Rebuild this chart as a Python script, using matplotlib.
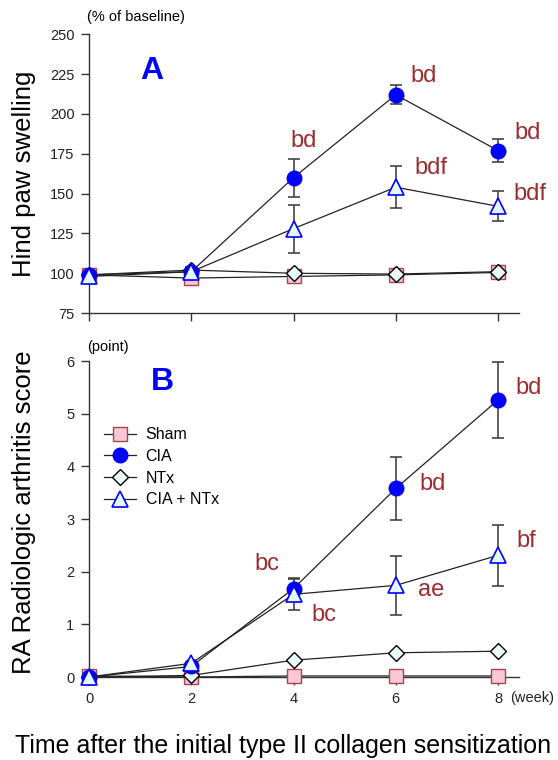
import numpy as np
import matplotlib
matplotlib.use("Agg")
from matplotlib import pyplot as plt

plt.rcParams['font.family'] = ['Liberation Sans', 'DejaVu Sans']

weeks = [0, 2, 4, 6, 8]
groups = ["Sham", "CIA", "NTx", "CIA + NTx"]

# panel A: hind paw swelling (% of baseline)
swell_sham = [99, 97, 98, 99, 100.5]
swell_cia = [99, 101, 160, 212, 177]
swell_ntx = [99, 102, 100, 99.5, 101]
swell_cia_ntx = [98, 101, 128, 154, 142]
swell_cia_err = [0, 3, 12, 6, 7]
swell_cia_ntx_err = [0, 3, 15, 13, 9.5]

# panel B: radiologic arthritis score (point)
score_sham = [0.02, 0.0, 0.02, 0.02, 0.02]
score_cia = [0.0, 0.2, 1.68, 3.58, 5.26]
score_ntx = [0.0, 0.03, 0.32, 0.46, 0.49]
score_cia_ntx = [0.0, 0.26, 1.57, 1.74, 2.31]
score_cia_err = [0, 0, 0.2, 0.6, 0.72]
score_cia_ntx_err = [0, 0, 0.3, 0.56, 0.58]

# significance letters: (x, y, text)
notes_a = [(4.2, 183, "bd"), (6.55, 224, "bd"), (8.57, 188, "bd"),
           (6.68, 166, "bdf"), (8.62, 150, "bdf")]
notes_b = [(3.48, 2.14, "bc"), (4.6, 1.17, "bc"), (6.72, 3.66, "bd"),
           (8.6, 5.49, "bd"), (6.7, 1.65, "ae"), (8.55, 2.58, "bf")]

red = "#9b2b2e"
styles = {
    "Sham": dict(marker="s", ms=9.5, mfc="#f8c8d6", mec="#a8444a", mew=1.0),
    "CIA": dict(marker="o", ms=10.5, mfc="#0000ff", mec="#0000ff", mew=1.0),
    "NTx": dict(marker="D", ms=8.5, mfc="#eafbfb", mec="black", mew=1.0),
    "CIA + NTx": dict(marker="^", ms=11, mfc="#e6f6ff", mec="#0000ff", mew=1.2),
}


def draw(ax, series, errs):
    for name in ["Sham", "NTx", "CIA", "CIA + NTx"]:
        y = series[name]
        if name in errs:
            ax.errorbar(weeks, y, yerr=errs[name], fmt="none", ecolor="#444444",
                        elinewidth=1.2, capsize=4.5, capthick=1.2, clip_on=False, zorder=2)
        ax.plot(weeks, y, color="#222222", lw=0.9, label=name, clip_on=False,
                zorder=3, **styles[name])
    ax.spines["top"].set_visible(False)
    ax.spines["right"].set_visible(False)
    for s in ["left", "bottom"]:
        ax.spines[s].set_color("#333333")
        ax.spines[s].set_linewidth(1.0)
    ax.set_xlim(0, 8.41)
    ax.set_xticks(weeks)
    ax.tick_params(direction="out", length=6, width=1, colors="#333333",
                   labelsize=10.5, labelcolor="#222222", pad=4.5)


fig = plt.figure(figsize=(5.58, 7.60), dpi=100)

axA = fig.add_axes([0.1595, 0.588, 0.7706, 0.367])
draw(axA, {"Sham": swell_sham, "CIA": swell_cia, "NTx": swell_ntx, "CIA + NTx": swell_cia_ntx},
     {"CIA": swell_cia_err, "CIA + NTx": swell_cia_ntx_err})
axA.set_ylim(75, 250)
axA.set_yticks(range(75, 251, 25))
axA.set_xticklabels([])
axA.set_ylabel("Hind paw swelling", fontsize=18.5)
axA.yaxis.set_label_coords(-0.123, 0.5)
axA.text(-0.005, 1.06, "(% of baseline)", transform=axA.transAxes, fontsize=10.5, va="center")
axA.text(1.23, 227, "A", fontsize=23, fontweight="bold", color="#0000ff", ha="center", va="center")
for x, y, t in notes_a:
    axA.text(x, y, t, color=red, fontsize=17, ha="center", va="center")

axB = fig.add_axes([0.1595, 0.1092, 0.7706, 0.4158])
draw(axB, {"Sham": score_sham, "CIA": score_cia, "NTx": score_ntx, "CIA + NTx": score_cia_ntx},
     {"CIA": score_cia_err, "CIA + NTx": score_cia_ntx_err})
axB.set_ylim(0, 6)
axB.set_yticks(range(0, 7))
axB.set_xticklabels(["0", "2", "4", "6", "8"])
axB.set_ylabel("RA Radiologic arthritis score", fontsize=18.5)
axB.yaxis.set_label_coords(-0.123, 0.52)
axB.text(-0.005, 1.045, "(point)", transform=axB.transAxes, fontsize=10.5, va="center")
axB.text(1.44, 5.6, "B", fontsize=23, fontweight="bold", color="#0000ff", ha="center", va="center")
for x, y, t in notes_b:
    axB.text(x, y, t, color=red, fontsize=17, ha="center", va="center")
axB.text(8.24, -0.39, "(week)", fontsize=10.5, va="center", color="#222222")

h, l = axB.get_legend_handles_labels()
order = [l.index(g) for g in groups]
axB.legend([h[i] for i in order], groups, loc="upper left", bbox_to_anchor=(0.035, 0.79),
           frameon=False, fontsize=11.5, handlelength=2.0, handletextpad=0.6,
           labelspacing=0.42, borderaxespad=0, borderpad=0)

fig.text(0.507, 0.018, "Time after the initial type II collagen sensitization",
         fontsize=18, ha="center", va="center")

fig.savefig("out.png", dpi=100)
